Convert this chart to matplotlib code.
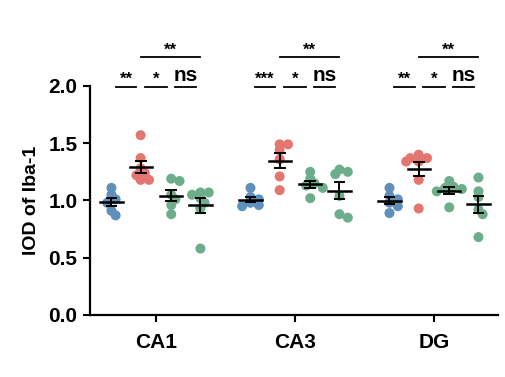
import numpy as np
import matplotlib
matplotlib.use("Agg")
import matplotlib.pyplot as plt

plt.rcParams['font.family'] = ['Liberation Sans', 'DejaVu Sans']
plt.rcParams['font.weight'] = 'bold'

regions = ["CA1", "CA3", "DG"]
colors = ["#5f90bb", "#e3766e", "#6cae8c", "#6cae8c"]

ca1 = [
    [1.11, 1.05, 1.01, 0.98, 0.91, 0.87],
    [1.57, 1.37, 1.28, 1.24, 1.22, 1.18, 1.18],
    [1.19, 1.17, 1.05, 1.01, 0.96, 0.88],
    [1.07, 1.07, 1.05, 1.02, 0.98, 0.93, 0.58],
]
ca3 = [
    [1.11, 1.03, 1.01, 0.98, 0.96, 0.95],
    [1.49, 1.49, 1.44, 1.36, 1.21, 1.09],
    [1.25, 1.19, 1.15, 1.13, 1.11, 1.02],
    [1.27, 1.25, 1.23, 1.04, 0.88, 0.85],
]
dg = [
    [1.11, 1.04, 1.01, 0.98, 0.95, 0.89],
    [1.40, 1.37, 1.37, 1.34, 1.34, 1.18, 0.93],
    [1.17, 1.12, 1.11, 1.10, 1.08, 0.94],
    [1.20, 1.08, 1.03, 0.92, 0.88, 0.68],
]
data = [ca1, ca3, dg]

sig_short = [(0, 1), (1, 2), (2, 3)]
sig_labels = {
    "CA1": ["**", "*", "ns", "**"],
    "CA3": ["***", "*", "ns", "**"],
    "DG": ["**", "*", "ns", "**"],
}

offsets = [-0.32, -0.11, 0.11, 0.32]

fig = plt.figure(figsize=(5.05, 3.77), dpi=100)
ax = fig.add_axes([0.178, 0.1645, 0.808, 0.6075])

def swarm(vals, dx=0.05, dy=0.05):
    placed = []
    xs = []
    for v in vals:
        for k in [0, 1, -1, 2, -2, 3, -3]:
            x = k * dx * 0.6
            ok = True
            for (px, py) in placed:
                if ((x - px) / dx) ** 2 + ((v - py) / dy) ** 2 < 1.0:
                    ok = False
                    break
            if ok:
                break
        placed.append((x, v))
        xs.append(x)
    return np.array(xs)

for gi, groups in enumerate(data):
    for si, vals in enumerate(groups):
        vals = np.array(vals)
        xc = gi + offsets[si]
        xs = swarm(vals)
        ax.scatter(xc + xs, vals, s=52, color=colors[si], edgecolors='none', zorder=2, clip_on=False)
        m = vals.mean()
        sem = vals.std(ddof=1) / np.sqrt(len(vals))
        ax.plot([xc - 0.08, xc + 0.08], [m, m], color='black', lw=1.8, zorder=3)
        ax.plot([xc, xc], [m - sem, m + sem], color='black', lw=1.4, zorder=3)
        for yy in (m - sem, m + sem):
            ax.plot([xc - 0.035, xc + 0.035], [yy, yy], color='black', lw=1.4, zorder=3)

    labs = sig_labels[regions[gi]]
    for k, (i, j) in enumerate(sig_short):
        x1 = gi + offsets[i] + 0.03
        x2 = gi + offsets[j] - 0.03
        ax.plot([x1, x2], [1.99, 1.99], color='black', lw=1.3, clip_on=False)
        lab = labs[k]
        if lab == "ns":
            ax.text((x1 + x2) / 2, 2.01, lab, ha='center', va='bottom', fontsize=15,
                    fontweight='bold', clip_on=False)
        else:
            ax.text((x1 + x2) / 2, 1.99, lab, ha='center', va='bottom', fontsize=12,
                    fontweight='bold', clip_on=False)
    x1 = gi + offsets[1]
    x2 = gi + offsets[3]
    ax.plot([x1, x2], [2.25, 2.25], color='black', lw=1.3, clip_on=False)
    ax.text((x1 + x2) / 2, 2.25, labs[3], ha='center', va='bottom', fontsize=12,
            fontweight='bold', clip_on=False)

ax.set_xlim(-0.475, 2.46)
ax.set_ylim(0, 2.0)
ax.set_yticks([0.0, 0.5, 1.0, 1.5, 2.0])
ax.set_yticklabels(["0.0", "0.5", "1.0", "1.5", "2.0"])
ax.set_xticks([0, 1, 2])
ax.set_xticklabels(regions)
ax.set_ylabel("IOD of Iba-1", fontsize=14, fontweight='bold', labelpad=6)
for lab in ax.get_xticklabels() + ax.get_yticklabels():
    lab.set_fontsize(15)
    lab.set_fontweight('bold')
ax.tick_params(axis='both', width=1.5, length=5, pad=4)
ax.tick_params(axis='x', pad=8)
for s in ['top', 'right']:
    ax.spines[s].set_visible(False)
for s in ['left', 'bottom']:
    ax.spines[s].set_linewidth(1.6)

fig.savefig("out.png", dpi=100)
